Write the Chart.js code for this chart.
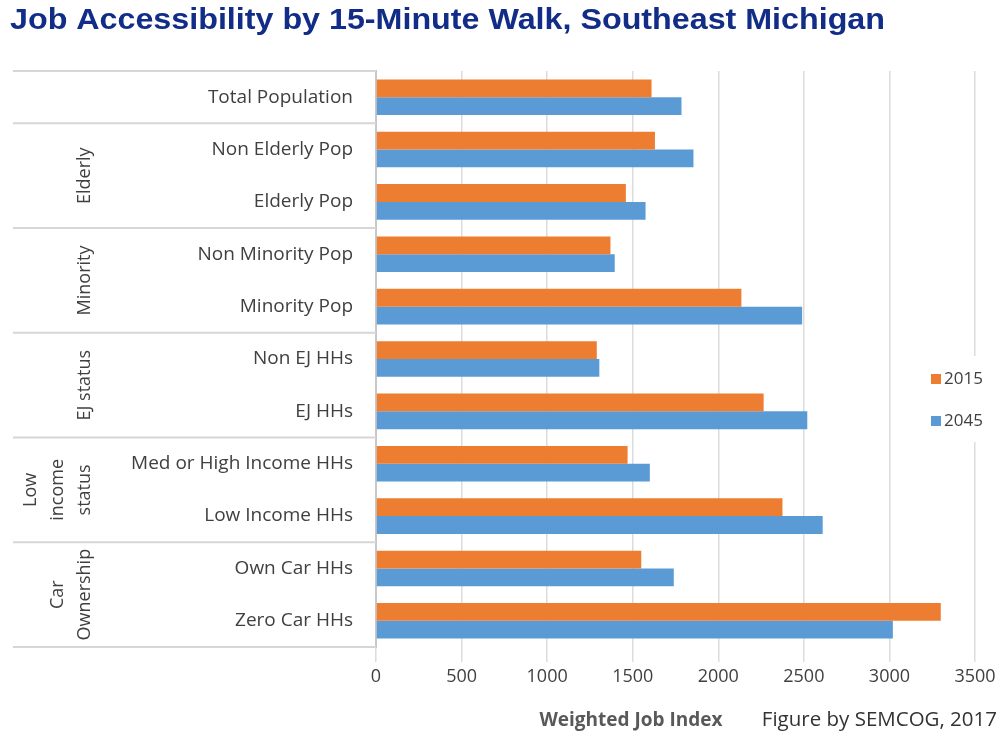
<!DOCTYPE html>
<html>
<head>
<meta charset="utf-8">
<script src="https://cdn.jsdelivr.net/npm/chart.js@4.4.1/dist/chart.umd.min.js"></script>
<style>
    html, body { margin: 0; padding: 0; background: #fff; }
    #wrap { width: 1000px; height: 738px; position: relative; }
</style>
</head>
<body>
<div id="wrap"><canvas id="chart-walk"></canvas></div>
<script>
const categories = ['Total Population', 'Non Elderly Pop', 'Elderly Pop', 'Non Minority Pop', 'Minority Pop',
    'Non EJ HHs', 'EJ HHs', 'Med or High Income HHs', 'Low Income HHs', 'Own Car HHs', 'Zero Car HHs'];
const values2015 = [1610, 1630, 1460, 1370, 2135, 1290, 2265, 1470, 2375, 1550, 3300];
const values2045 = [1785, 1855, 1575, 1395, 2490, 1305, 2520, 1600, 2610, 1740, 3020];
const seriesNames = ['2015', '2045'];
// group label lines, first / last category index
const groups = [
    { lines: ['Elderly'], from: 1, to: 2 },
    { lines: ['Minority'], from: 3, to: 4 },
    { lines: ['EJ status'], from: 5, to: 6 },
    { lines: ['Low', 'income', 'status'], from: 7, to: 8 },
    { lines: ['Car', 'Ownership'], from: 9, to: 10 }
];
const titleText = 'Job Accessibility by 15-Minute Walk, Southeast Michigan';
const axisTitle = 'Weighted Job Index';
const sourceText = 'Figure by SEMCOG, 2017';

const FONT = '"Open Sans", "DejaVu Sans", sans-serif';
const TXT = '#404040';

// title, group boxes, legend, footer
const decorPlugin = {
    id: 'decor',
    beforeDraw(chart) {
        const ctx = chart.ctx;
        ctx.save();
        ctx.fillStyle = '#fff';
        ctx.fillRect(0, 0, chart.width, chart.height);
        // title, squeezed to the reference width
        ctx.font = 'bold 30px "Liberation Sans", Arial, sans-serif';
        const w = ctx.measureText(titleText).width;
        ctx.translate(10, 21);
        ctx.scale(875 / w, 1);
        ctx.fillStyle = '#122d87';
        ctx.textBaseline = 'middle';
        ctx.fillText(titleText, 0, 0);
        ctx.restore();
    },
    afterDraw(chart) {
        const ctx = chart.ctx;
        const y = chart.scales.y;
        const area = chart.chartArea;
        const half = (y.getPixelForValue(1) - y.getPixelForValue(0)) / 2;
        ctx.save();

        // separators in the label column
        ctx.strokeStyle = '#d6d6d6';
        ctx.lineWidth = 2;
        const cuts = [area.top, area.bottom];
        groups.forEach(g => cuts.push(y.getPixelForValue(g.from) - half));
        cuts.forEach(py => {
            ctx.beginPath();
            ctx.moveTo(13, py);
            ctx.lineTo(area.left, py);
            ctx.stroke();
        });

        // rotated group names
        ctx.fillStyle = TXT;
        ctx.font = '18px ' + FONT;
        ctx.textAlign = 'center';
        ctx.textBaseline = 'middle';
        groups.forEach(g => {
            const cy = (y.getPixelForValue(g.from) + y.getPixelForValue(g.to)) / 2;
            const n = g.lines.length;
            g.lines.forEach((line, i) => {
                const cx = 85 - (n - 1 - i) * 27;
                ctx.save();
                ctx.translate(cx, cy);
                ctx.rotate(-Math.PI / 2);
                ctx.fillText(line, 0, 0);
                ctx.restore();
            });
        });

        // legend
        ctx.fillStyle = '#fff';
        ctx.fillRect(918, 356, 82, 86);
        ctx.font = '17px ' + FONT;
        ctx.textAlign = 'left';
        chart.data.datasets.forEach((ds, i) => {
            const ly = 379 + i * 42;
            ctx.fillStyle = ds.backgroundColor;
            ctx.fillRect(931, ly - 5, 10, 10);
            ctx.fillStyle = TXT;
            ctx.fillText(ds.label, 944, ly);
        });

        // footer texts
        ctx.textAlign = 'center';
        ctx.fillStyle = '#595959';
        ctx.font = 'bold 19px ' + FONT;
        ctx.fillText(axisTitle, 631, 721);
        ctx.textAlign = 'right';
        ctx.fillStyle = '#333';
        ctx.font = '20.5px ' + FONT;
        ctx.fillText(sourceText, 997, 720);
        ctx.restore();
    }
};

new Chart(document.getElementById('chart-walk'), {
    type: 'bar',
    data: {
        labels: categories,
        datasets: [
            { label: seriesNames[0], data: values2015, backgroundColor: '#ED7D31' },
            { label: seriesNames[1], data: values2045, backgroundColor: '#5B9BD5' }
        ]
    },
    options: {
        indexAxis: 'y',
        responsive: true,
        maintainAspectRatio: false,
        animation: false,
        layout: { padding: { top: 71, right: 25, left: 0, bottom: 0 } },
        datasets: { bar: { categoryPercentage: 0.68, barPercentage: 1.0 } },
        plugins: {
            legend: { display: false },
            tooltip: { enabled: false }
        },
        scales: {
            x: {
                min: 0,
                max: 3500,
                ticks: {
                    stepSize: 500, color: TXT, font: { family: FONT, size: 18 }, padding: 4,
                    callback: v => String(v)
                },
                grid: { color: '#dcdcdc', lineWidth: 1.5, tickLength: 15 },
                border: { display: false },
                afterFit(scale) { scale.height = 91; }
            },
            y: {
                ticks: { color: TXT, font: { family: FONT, size: 19 }, padding: 23 },
                grid: { display: false, drawTicks: false },
                border: { display: true, color: '#c8c8c8', width: 2 },
                afterFit(scale) { scale.width = 376; }
            }
        }
    },
    plugins: [decorPlugin]
});
</script>
</body>
</html>
